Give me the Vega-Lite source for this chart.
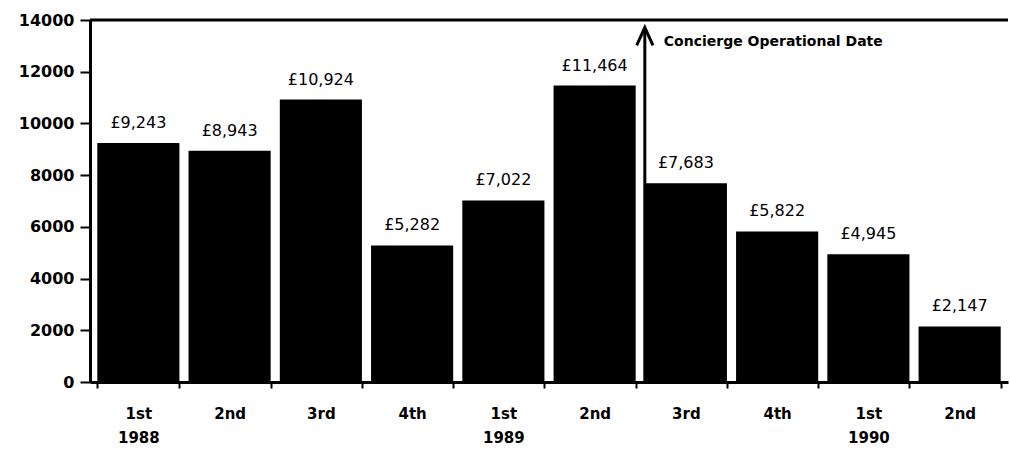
{
  "$schema": "https://vega.github.io/schema/vega-lite/v6.json",
  "autosize": {"type": "none"},
  "width": 918,
  "height": 362,
  "padding": {"left": 90, "top": 20, "right": 2, "bottom": 68},
  "background": "white",
  "config": {
    "view": {"stroke": null},
    "font": "DejaVu Sans"
  },
  "data": {
    "values": [
      {"period": "1988-1st", "value": 9243, "label": "£9,243"},
      {"period": "1988-2nd", "value": 8943, "label": "£8,943"},
      {"period": "1988-3rd", "value": 10924, "label": "£10,924"},
      {"period": "1988-4th", "value": 5282, "label": "£5,282"},
      {"period": "1989-1st", "value": 7022, "label": "£7,022"},
      {"period": "1989-2nd", "value": 11464, "label": "£11,464"},
      {"period": "1989-3rd", "value": 7683, "label": "£7,683"},
      {"period": "1989-4th", "value": 5822, "label": "£5,822"},
      {"period": "1990-1st", "value": 4945, "label": "£4,945"},
      {"period": "1990-2nd", "value": 2147, "label": "£2,147"}
    ]
  },
  "layer": [
    {
      "mark": {"type": "bar", "color": "black"},
      "encoding": {
        "x": {
          "field": "period",
          "type": "nominal",
          "sort": null,
          "scale": {"paddingInner": 0.1, "paddingOuter": 0.08},
          "axis": {
            "title": null,
            "labelAngle": 0,
            "tickBand": "extent",
            "tickSize": 6,
            "tickWidth": 2,
            "tickColor": "black",
            "domainColor": "black",
            "domainWidth": 3,
            "labelPadding": 18,
            "labelFont": "DejaVu Sans",
            "labelFontSize": 15,
            "labelFontWeight": "bold",
            "labelColor": "black",
            "labelLineHeight": 24,
            "labelExpr": "split(datum.value,'-')[1] == '1st' ? [split(datum.value,'-')[1], split(datum.value,'-')[0]] : split(datum.value,'-')[1]"
          }
        },
        "y": {
          "field": "value",
          "type": "quantitative",
          "scale": {"domain": [0, 14000], "nice": false},
          "axis": {
            "title": null,
            "values": [0, 2000, 4000, 6000, 8000, 10000, 12000, 14000],
            "format": "d",
            "grid": false,
            "tickSize": 10,
            "tickWidth": 2,
            "tickColor": "black",
            "domainColor": "black",
            "domainWidth": 3,
            "labelPadding": 6,
            "labelFont": "DejaVu Sans",
            "labelFontSize": 16,
            "labelFontWeight": "bold",
            "labelColor": "black"
          }
        }
      }
    },
    {
      "mark": {"type": "text", "baseline": "bottom", "dy": -12, "fontSize": 16, "font": "DejaVu Sans", "color": "black"},
      "encoding": {
        "x": {"field": "period", "type": "nominal", "sort": null},
        "y": {"field": "value", "type": "quantitative"},
        "text": {"field": "label"}
      }
    },
    {
      "data": {"values": [{}]},
      "mark": {"type": "rule", "color": "black", "strokeWidth": 3},
      "encoding": {"y": {"datum": 14000}}
    },
    {
      "data": {"values": [{}]},
      "mark": {"type": "rule", "color": "black", "strokeWidth": 3},
      "encoding": {
        "x": {"datum": "1989-3rd", "bandPosition": 0},
        "y": {"datum": 0},
        "y2": {"datum": 13700}
      }
    },
    {
      "data": {"values": [{}]},
      "mark": {"type": "point", "shape": "M-0.9,1L0,-1L0.9,1", "filled": false, "stroke": "black", "strokeWidth": 3, "size": 324, "opacity": 1},
      "encoding": {
        "x": {"datum": "1989-3rd", "bandPosition": 0},
        "y": {"datum": 13370}
      }
    },
    {
      "data": {"values": [{}]},
      "mark": {"type": "text", "align": "left", "baseline": "middle", "dx": 19, "fontSize": 14, "fontWeight": "bold", "font": "DejaVu Sans", "color": "black"},
      "encoding": {
        "x": {"datum": "1989-3rd", "bandPosition": 0},
        "y": {"datum": 13150},
        "text": {"value": "Concierge Operational Date"}
      }
    }
  ]
}
